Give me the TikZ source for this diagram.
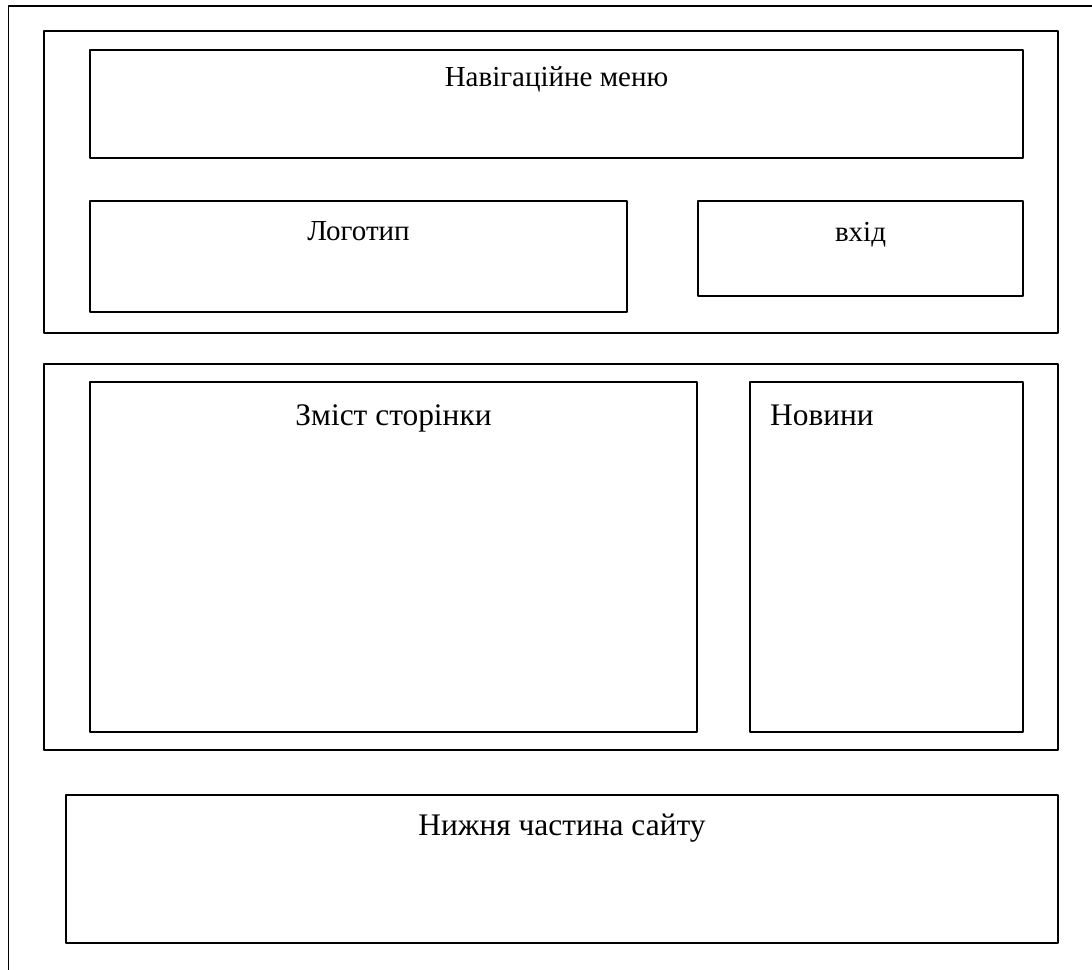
\documentclass[tikz,border=0pt]{standalone}
\usepackage{fontspec}
\setmainfont{Liberation Serif}

\begin{document}
\begin{tikzpicture}[x=1pt, y=-1pt, line cap=round, line join=round]

% ---------------- styles ----------------
\tikzset{
  block/.style  ={draw, line width=1.9pt, inner sep=0pt, outer sep=0pt},
  txt/.style    ={inner sep=0pt, anchor=base, font=\fontsize{29}{35}\selectfont},
  bigtxt/.style ={txt, font=\fontsize{31.4}{38}\selectfont}
}

% helper: one block from its corners (x1,y1) and (x2,y2), in pixels
\newcommand{\Block}[5]{%
  \node[block, minimum width={(#4-#2)*1pt}, minimum height={(#5-#3)*1pt}]
    (#1) at ({(#2+#4)/2},{(#3+#5)/2}) {};
}

\useasboundingbox (0,0) rectangle (1092,969);

% ---------------- page frame (cut off at right and bottom) ----------------
\coordinate (pageNE) at (1100,6);
\coordinate (pageNW) at (8.5,6);
\coordinate (pageSW) at (8.5,980);
\draw[line width=1.7pt] (pageNE) -- (pageNW) -- (pageSW);

% ---------------- header ----------------
\Block{header}{44}{31}{1058}{333}
\Block{nav}{90}{50}{1023}{158}
\Block{logo}{90}{201}{627}{312}
\Block{login}{698}{201}{1023}{296}

\node[txt] (navText)   at ([yshift=-36.7pt]nav.north)   {Навігаційне меню};
\node[txt] (logoText)  at ([yshift=-39pt]logo.north)    {Логотип};
\node[txt] (loginText) at ([yshift=-40pt]login.north)   {вхід};

% ---------------- main part ----------------
\Block{main}{44}{364}{1058}{750}
\Block{content}{90}{382}{697}{732}
\Block{news}{750}{382}{1023}{732}

\node[bigtxt] (contentText) at ([yshift=-43pt]content.north) {Зміст сторінки};
\node[bigtxt, anchor=base west] (newsText)
  at ([xshift=20pt, yshift=-43pt]news.north west) {Новини};

% ---------------- footer ----------------
\Block{footer}{66}{795}{1058}{943}
\node[bigtxt] (footerText) at ([yshift=-40pt]footer.north) {Нижня частина сайту};

\end{tikzpicture}
\end{document}
